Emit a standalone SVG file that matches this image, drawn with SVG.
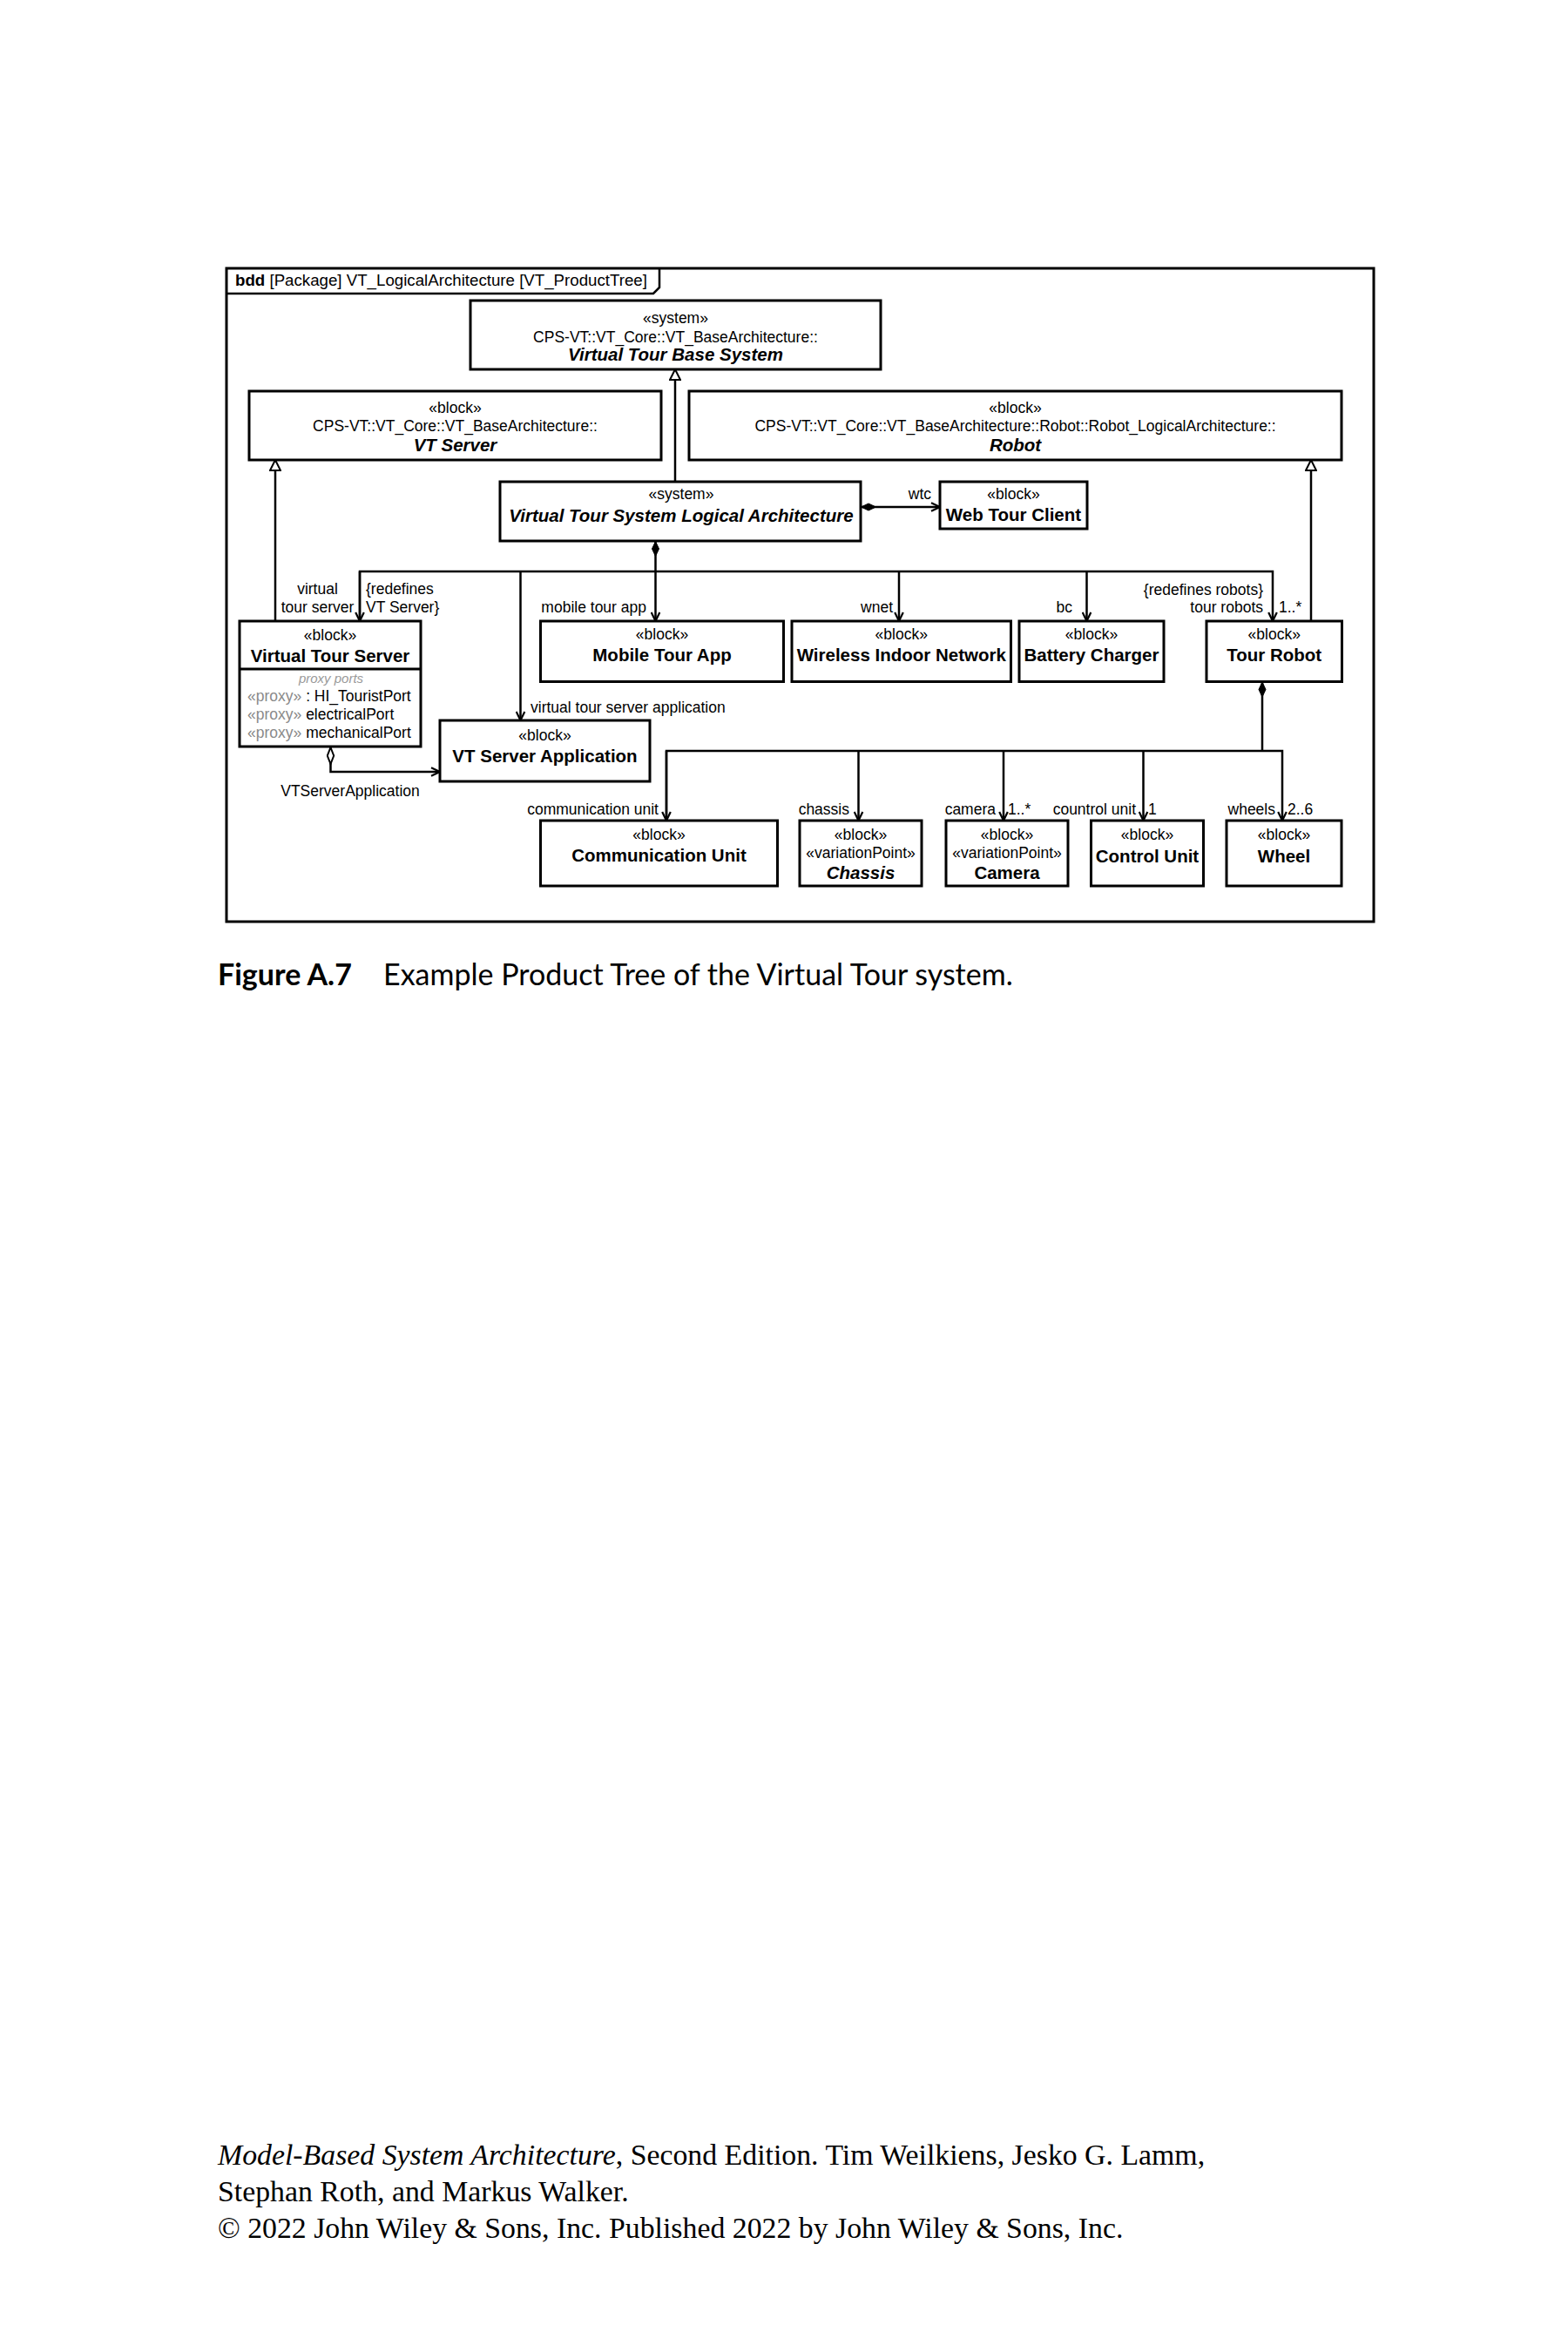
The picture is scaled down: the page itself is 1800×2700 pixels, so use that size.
<svg xmlns="http://www.w3.org/2000/svg" width="1800" height="2700" viewBox="0 0 1800 2700">
<style>
.bg{fill:#fff}
.box{fill:#fff;stroke:#000;stroke-width:3}
.ln{fill:none;stroke:#000;stroke-width:2.5}
.t{font-family:"Liberation Sans",Arial,Helvetica,sans-serif;font-size:17.5px;fill:#000}
.b{font-weight:bold;font-size:20.5px}
.bi{font-weight:bold;font-style:italic;font-size:20.5px}
.c{text-anchor:middle}
.e{text-anchor:end}
.g{fill:#8a8a8a}
.pp{font-style:italic;fill:#9a9a9a;font-size:15px}
.cap{font-family:Lato,"Noto Sans",sans-serif;font-size:34px;fill:#000}
.ft{font-family:"Liberation Serif","Times New Roman",serif;font-size:33.8px;fill:#000}
</style>
<defs>
<marker id="open" viewBox="0 0 12 12" refX="11" refY="6" markerWidth="12" markerHeight="12" markerUnits="userSpaceOnUse" orient="auto"><path d="M1,1.2 L11,6 L1,10.8" fill="none" stroke="#000" stroke-width="2.2"/></marker>
<marker id="dia" viewBox="0 0 18 10" refX="0" refY="5" markerWidth="18" markerHeight="10" markerUnits="userSpaceOnUse" orient="auto"><path d="M0.5,5 L9,1 L17.5,5 L9,9 Z" fill="#000" stroke="#000" stroke-width="1"/></marker>
<marker id="hdia" viewBox="0 0 22 10" refX="0" refY="5" markerWidth="22" markerHeight="10" markerUnits="userSpaceOnUse" orient="auto"><path d="M1,5 L10.5,1.3 L20,5 L10.5,8.7 Z" fill="#fff" stroke="#000" stroke-width="2"/></marker>
<marker id="tri" viewBox="0 0 14 14" refX="13" refY="7" markerWidth="14" markerHeight="14" markerUnits="userSpaceOnUse" orient="auto"><path d="M1,1 L13,7 L1,13 Z" fill="#fff" stroke="#000" stroke-width="2"/></marker>
</defs>
<rect class="bg" x="0" y="0" width="1800" height="2700"/>

<g id="frame">
<rect x="260" y="308" width="1317" height="750" fill="none" stroke="#000" stroke-width="3"/>
<path d="M260,337 L750,337 L757,330 L757,308" fill="none" stroke="#000" stroke-width="2.5"/>
<text class="t" x="270" y="328" style="font-size:18.7px"><tspan font-weight="bold">bdd</tspan> [Package] VT_LogicalArchitecture [VT_ProductTree]</text>
</g>

<g id="connectors">
<!-- generalizations -->
<path class="ln" d="M775,553 L775,424" marker-end="url(#tri)"/>
<path class="ln" d="M316,713 L316,528" marker-end="url(#tri)"/>
<path class="ln" d="M1505,713 L1505,528" marker-end="url(#tri)"/>
<!-- VTSLA composition -->
<path class="ln" d="M752.5,621 L752.5,713" marker-start="url(#dia)" marker-end="url(#open)"/>
<path class="ln" d="M413,713 L413,656 L1461,656 L1461,713" marker-end="url(#open)"/>
<path class="ln" d="M413,656 L413,713" marker-end="url(#open)"/>
<path class="ln" d="M597.5,656 L597.5,827" marker-end="url(#open)"/>
<path class="ln" d="M1032,656 L1032,713" marker-end="url(#open)"/>
<path class="ln" d="M1247.5,656 L1247.5,713" marker-end="url(#open)"/>
<!-- wtc -->
<path class="ln" d="M988,582 L1079,582" marker-start="url(#dia)" marker-end="url(#open)"/>
<!-- VTServerApplication -->
<path class="ln" d="M379.5,857 L379.5,886 L505,886" marker-start="url(#hdia)" marker-end="url(#open)"/>
<!-- Tour Robot composition -->
<path class="ln" d="M1449,782.5 L1449,862" marker-start="url(#dia)"/>
<path class="ln" d="M765,942 L765,862 L1472,862 L1472,942" marker-end="url(#open)"/>
<path class="ln" d="M765,862 L765,942" marker-end="url(#open)"/>
<path class="ln" d="M985.5,862 L985.5,942" marker-end="url(#open)"/>
<path class="ln" d="M1152,862 L1152,942" marker-end="url(#open)"/>
<path class="ln" d="M1312.5,862 L1312.5,942" marker-end="url(#open)"/>
<!-- labels -->
<text class="t e" x="1069" y="573">wtc</text>
<text class="t c" x="364.5" y="682">virtual</text>
<text class="t c" x="364.5" y="703">tour server</text>
<text class="t" x="420" y="682">{redefines</text>
<text class="t" x="420" y="703">VT Server}</text>
<text class="t e" x="742" y="703">mobile tour app</text>
<text class="t" x="609" y="818">virtual tour server application</text>
<text class="t e" x="1025" y="703">wnet</text>
<text class="t e" x="1231" y="703">bc</text>
<text class="t e" x="1450" y="683">{redefines robots}</text>
<text class="t e" x="1450" y="703">tour robots</text>
<text class="t" x="1468" y="703">1..*</text>
<text class="t c" x="402" y="914">VTServerApplication</text>
<text class="t e" x="756" y="935">communication unit</text>
<text class="t e" x="975" y="935">chassis</text>
<text class="t e" x="1143" y="935">camera</text>
<text class="t" x="1157" y="935">1..*</text>
<text class="t e" x="1304" y="935">countrol unit</text>
<text class="t" x="1318" y="935">1</text>
<text class="t e" x="1464" y="935">wheels</text>
<text class="t" x="1478" y="935">2..6</text>
</g>

<g id="base-system">
<rect class="box" x="540" y="345" width="471" height="79"/>
<text class="t c" x="775.5" y="371">«system»</text>
<text class="t c" x="775.5" y="393">CPS-VT::VT_Core::VT_BaseArchitecture::</text>
<text class="t c bi" x="775.5" y="414">Virtual Tour Base System</text>
</g>

<g id="vt-server">
<rect class="box" x="286" y="449" width="473" height="79"/>
<text class="t c" x="522.5" y="474">«block»</text>
<text class="t c" x="522.5" y="495">CPS-VT::VT_Core::VT_BaseArchitecture::</text>
<text class="t c bi" x="522.5" y="518">VT Server</text>
</g>

<g id="robot">
<rect class="box" x="791" y="449" width="749" height="79"/>
<text class="t c" x="1165.5" y="474">«block»</text>
<text class="t c" x="1165.5" y="495">CPS-VT::VT_Core::VT_BaseArchitecture::Robot::Robot_LogicalArchitecture::</text>
<text class="t c bi" x="1165.5" y="518">Robot</text>
</g>

<g id="vtsla">
<rect class="box" x="574" y="553" width="414" height="68"/>
<text class="t c" x="782" y="573">«system»</text>
<text class="t c bi" x="782" y="599">Virtual Tour System Logical Architecture</text>
</g>

<g id="web-tour-client">
<rect class="box" x="1079" y="553" width="169" height="54"/>
<text class="t c" x="1163.5" y="573">«block»</text>
<text class="t c b" x="1163.5" y="598">Web Tour Client</text>
</g>

<g id="virtual-tour-server">
<rect class="box" x="275" y="713" width="208" height="144"/>
<line x1="275" y1="768" x2="483" y2="768" stroke="#000" stroke-width="3"/>
<text class="t c" x="379" y="735">«block»</text>
<text class="t c b" x="379" y="760">Virtual Tour Server</text>
<text class="t c pp" x="380" y="784">proxy ports</text>
<text class="t" x="284" y="805"><tspan class="g">«proxy»</tspan> : HI_TouristPort</text>
<text class="t" x="284" y="826"><tspan class="g">«proxy»</tspan> electricalPort</text>
<text class="t" x="284" y="847"><tspan class="g">«proxy»</tspan> mechanicalPort</text>
</g>

<g id="mobile-tour-app">
<rect class="box" x="620.5" y="713" width="279" height="69.5"/>
<text class="t c" x="760" y="734">«block»</text>
<text class="t c b" x="760" y="759">Mobile Tour App</text>
</g>

<g id="wireless-indoor-network">
<rect class="box" x="909" y="713" width="251.5" height="69.5"/>
<text class="t c" x="1034.75" y="734">«block»</text>
<text class="t c b" x="1034.75" y="759">Wireless Indoor Network</text>
</g>

<g id="battery-charger">
<rect class="box" x="1170" y="713" width="166" height="69.5"/>
<text class="t c" x="1253" y="734">«block»</text>
<text class="t c b" x="1253" y="759">Battery Charger</text>
</g>

<g id="tour-robot">
<rect class="box" x="1385" y="713" width="155.5" height="69.5"/>
<text class="t c" x="1462.75" y="734">«block»</text>
<text class="t c b" x="1462.75" y="759">Tour Robot</text>
</g>

<g id="vt-server-application">
<rect class="box" x="505" y="827" width="241" height="70"/>
<text class="t c" x="625.5" y="850">«block»</text>
<text class="t c b" x="625.5" y="875">VT Server Application</text>
</g>

<g id="communication-unit">
<rect class="box" x="620.5" y="942" width="272" height="75"/>
<text class="t c" x="756.5" y="964">«block»</text>
<text class="t c b" x="756.5" y="989">Communication Unit</text>
</g>

<g id="chassis">
<rect class="box" x="918" y="942" width="140" height="75"/>
<text class="t c" x="988" y="964">«block»</text>
<text class="t c" x="988" y="985">«variationPoint»</text>
<text class="t c bi" x="988" y="1009">Chassis</text>
</g>

<g id="camera">
<rect class="box" x="1086" y="942" width="140" height="75"/>
<text class="t c" x="1156" y="964">«block»</text>
<text class="t c" x="1156" y="985">«variationPoint»</text>
<text class="t c b" x="1156" y="1009">Camera</text>
</g>

<g id="control-unit">
<rect class="box" x="1252.5" y="942" width="129" height="75"/>
<text class="t c" x="1317" y="964">«block»</text>
<text class="t c b" x="1317" y="990">Control Unit</text>
</g>

<g id="wheel">
<rect class="box" x="1408" y="942" width="132" height="75"/>
<text class="t c" x="1474" y="964">«block»</text>
<text class="t c b" x="1474" y="990">Wheel</text>
</g>

<g id="caption">
<text class="cap" x="250" y="1131"><tspan font-weight="bold">Figure A.7</tspan></text>
<text class="cap" x="440" y="1131">Example Product Tree of the Virtual Tour system.</text>
</g>

<g id="footer">
<text class="ft" x="250" y="2485"><tspan font-style="italic">Model-Based System Architecture</tspan>, Second Edition. Tim Weilkiens, Jesko G. Lamm,</text>
<text class="ft" x="250" y="2527">Stephan Roth, and Markus Walker.</text>
<text class="ft" x="250" y="2569">© 2022 John Wiley &amp; Sons, Inc. Published 2022 by John Wiley &amp; Sons, Inc.</text>
</g>
</svg>
